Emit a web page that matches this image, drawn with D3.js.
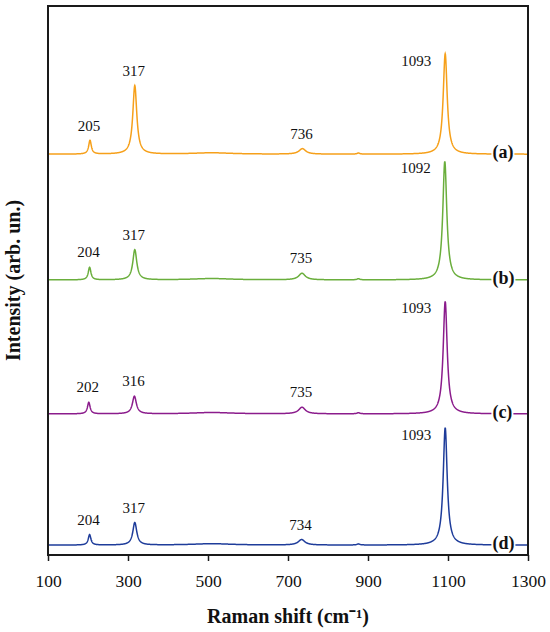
<!DOCTYPE html>
<html>
<head>
<meta charset="utf-8">
<script src="https://cdn.jsdelivr.net/npm/d3@7"></script>
<style>
  body { margin: 0; background: #fff; }
  svg { font-family: "Palatino Linotype", Palatino, "Liberation Serif", serif; }
</style>
</head>
<body>
<svg id="chart" width="550" height="632"></svg>
<script>
// spectra: peak centres (cm-1), heights and half widths (arb. un.)
var seriesNames = ['(a)', '(b)', '(c)', '(d)'];
var seriesColors = ['#f6a01a', '#6aae3c', '#8b1c8c', '#1e3c9a'];
var offsets = [73.0, 50.1, 25.7, 1.8];

var peakCenters = [
  [205, 317, 736, 1093],
  [204, 317, 735, 1092],
  [202, 316, 735, 1093],
  [204, 317, 734, 1093]
];
var peakHeights = [
  [2.5, 12.5, 1.0, 18.3],
  [2.3, 5.5, 1.2, 21.6],
  [2.1, 3.2, 1.2, 20.5],
  [1.9, 4.1, 1.0, 21.4]
];
var peakWidths = [4, 6, 10, 6];

// weak extra bands (not labelled)
var minorCenters = [510, 876];
var minorHeights = [0.25, 0.2];
var minorWidths = [60, 4];

var xTicks = [100, 300, 500, 700, 900, 1100, 1300];

var margin = {left: 48, right: 22, top: 6, bottom: 77};
var width = 550 - margin.left - margin.right;
var height = 632 - margin.top - margin.bottom;

var svg = d3.select('#chart');
var g = svg.append('g').attr('transform', 'translate(' + margin.left + ',' + margin.top + ')');

var x = d3.scaleLinear().domain([100, 1300]).range([0, width]);
var y = d3.scaleLinear().domain([0, 100]).range([height, 0]);

function lorentz(w, c, h, gam){
  return h / (1 + Math.pow((w - c) / gam, 2));
}

function spectrum(i){
  var pts = [];
  for(var w = 100; w <= 1300; w += 0.5){
    var v = offsets[i];
    for(var k = 0; k < peakCenters[i].length; k++){
      v += lorentz(w, peakCenters[i][k], peakHeights[i][k], peakWidths[k]);
    }
    for(var m = 0; m < minorCenters.length; m++){
      v += lorentz(w, minorCenters[m], minorHeights[m], minorWidths[m]);
    }
    pts.push([w, v]);
  }
  return pts;
}

var line = d3.line()
  .x(function(d){ return x(d[0]); })
  .y(function(d){ return y(d[1]); });

//Draw spectra
seriesNames.forEach(function(name, i){
  g.append('path')
    .datum(spectrum(i))
    .attr('fill', 'none')
    .attr('stroke', seriesColors[i])
    .attr('stroke-width', 1.5)
    .attr('d', line);
});

//Peak labels
seriesNames.forEach(function(name, i){
  peakCenters[i].forEach(function(c, k){
    var top = y(offsets[i] + peakHeights[i][k]);
    var t = g.append('text')
      .attr('font-size', 15)
      .attr('fill', '#111')
      .text(c);
    if(k === 3){
      t.attr('x', x(c) - 14).attr('y', top + 12).attr('text-anchor', 'end');
    } else {
      t.attr('x', x(c) - 1).attr('y', top - 10).attr('text-anchor', 'middle');
    }
  });
});

//Series labels with white box over the line
seriesNames.forEach(function(name, i){
  var lbl = g.append('g');
  var t = lbl.append('text')
    .attr('x', x(1211))
    .attr('y', y(offsets[i]) + 4)
    .attr('font-size', 18)
    .attr('font-weight', 'bold')
    .attr('fill', '#111')
    .text(name);
  var bb = t.node().getBBox();
  lbl.insert('rect', 'text')
    .attr('x', bb.x - 1)
    .attr('y', bb.y)
    .attr('width', bb.width + 2)
    .attr('height', bb.height)
    .attr('fill', '#fff');
});

//Frame
g.append('rect')
  .attr('width', width)
  .attr('height', height)
  .attr('fill', 'none')
  .attr('stroke', '#1a1a1a')
  .attr('stroke-width', 2);

//x axis
var xAxis = g.append('g')
  .attr('transform', 'translate(0,' + height + ')')
  .call(d3.axisBottom(x).tickValues(xTicks).tickSize(6).tickPadding(14).tickFormat(d3.format('d')));
xAxis.select('.domain').remove();
xAxis.selectAll('line').attr('stroke', '#1a1a1a').attr('stroke-width', 1.5);
xAxis.selectAll('text')
  .attr('font-family', '"Palatino Linotype", Palatino, "Liberation Serif", serif')
  .attr('font-size', 17.5)
  .attr('fill', '#111');

//axis titles
svg.append('text')
  .attr('x', margin.left + width / 2)
  .attr('y', 623)
  .attr('text-anchor', 'middle')
  .attr('font-size', 20)
  .attr('font-weight', 'bold')
  .attr('fill', '#111')
  .text('Raman shift (cm\u207B\u00B9)');

svg.append('text')
  .attr('transform', 'translate(20,' + (margin.top + height / 2) + ') rotate(-90)')
  .attr('text-anchor', 'middle')
  .attr('font-size', 20)
  .attr('font-weight', 'bold')
  .attr('fill', '#111')
  .text('Intensity (arb. un.)');
</script>
</body>
</html>
